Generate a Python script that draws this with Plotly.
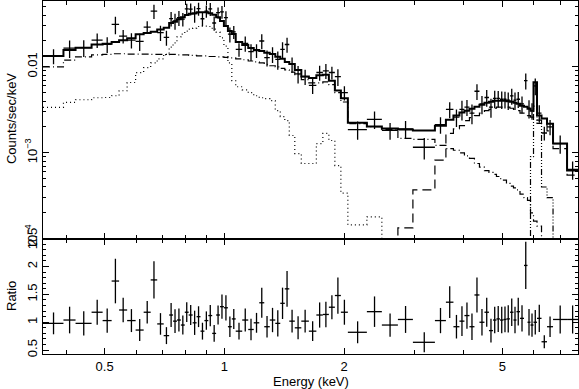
import math

import plotly.graph_objects as go
from plotly.subplots import make_subplots

# bin edges (keV) shared by the spectrum and ratio panels
EDGES = [
    0.350, 0.394, 0.4226, 0.4637, 0.4943, 0.5208, 0.5438, 0.5697, 0.5984, 0.6269,
    0.6529, 0.6780, 0.7040, 0.7266, 0.7432, 0.7602, 0.7776, 0.7954, 0.8136, 0.8326,
    0.8517, 0.8712, 0.8911, 0.9115, 0.9323, 0.9536, 0.9754, 0.9977, 1.0211, 1.0444,
    1.0683, 1.1092, 1.1486, 1.1858, 1.2243, 1.2602, 1.3010, 1.3432, 1.3827, 1.4193,
    1.4568, 1.5040, 1.5618, 1.6316, 1.7040, 1.7694, 1.8320, 1.8968, 1.9639, 2.0449,
    2.2829, 2.4899, 2.7322, 2.9801, 3.3852, 3.6079, 3.7684, 3.9017, 4.0165, 4.1346,
    4.2560, 4.3811, 4.5098, 4.6290, 4.7375, 4.8346, 4.9338, 5.0349, 5.1232, 5.2283,
    5.3355, 5.4291, 5.5404, 5.6703, 5.7865, 5.8880, 5.9912, 6.1142, 6.2757, 6.4792,
    6.7085, 7.2760, 7.7518,
]

# observed counts/sec/keV
COUNTS = [
    0.0134, 0.0165, 0.0167, 0.0205, 0.0183, 0.0312, 0.0228, 0.0205, 0.0198, 0.0290,
    0.0445, 0.0250, 0.0220, 0.0365, 0.0343, 0.0373, 0.0360, 0.0472, 0.0470, 0.0417,
    0.0475, 0.0363, 0.0445, 0.0472, 0.0324, 0.0428, 0.0436, 0.0375, 0.0240, 0.0255,
    0.0160, 0.0188, 0.0150, 0.0155, 0.0200, 0.0128, 0.0140, 0.0122, 0.0160, 0.0182,
    0.0107, 0.0083, 0.0077, 0.0061, 0.0086, 0.0090, 0.0086, 0.0077, 0.0050, 0.00186,
    0.00245, 0.00182, 0.00190, 0.00116, 0.00213, 0.0032, 0.0026, 0.0032, 0.0034, 0.0029,
    0.0052, 0.0037, 0.0044, 0.0034, 0.0043, 0.0043, 0.0042, 0.0042, 0.0041, 0.0046,
    0.0041, 0.0042, 0.0037, 0.0069, 0.0033, 0.0031, 0.0060, 0.0029, 0.0017, 0.0020,
    0.00128, 0.00064,
]

# fractional 1-sigma error of each bin
FRAC_ERR = [
    0.20, 0.23, 0.22, 0.19, 0.21, 0.23, 0.18, 0.20, 0.23, 0.17,
    0.19, 0.20, 0.20, 0.19, 0.21, 0.20, 0.18, 0.15, 0.16, 0.22,
    0.17, 0.18, 0.16, 0.17, 0.19, 0.15, 0.17, 0.18, 0.20, 0.17,
    0.18, 0.20, 0.22, 0.18, 0.20, 0.21, 0.21, 0.24, 0.21, 0.20,
    0.20, 0.23, 0.20, 0.21, 0.20, 0.20, 0.17, 0.22, 0.19, 0.24,
    0.23, 0.22, 0.23, 0.28, 0.22, 0.21, 0.23, 0.26, 0.21, 0.26,
    0.21, 0.24, 0.22, 0.25, 0.23, 0.22, 0.23, 0.22, 0.23, 0.21,
    0.23, 0.21, 0.22, 0.21, 0.24, 0.22, 0.22, 0.23, 0.18, 0.20,
    0.24, 0.24,
]

# data / model ratio
RATIO = [
    0.98, 1.04, 0.98, 1.18, 1.03, 1.74, 1.22, 1.03, 0.86, 1.18,
    1.76, 0.97, 0.76, 1.13, 1.02, 1.04, 0.95, 1.18, 1.13, 0.99,
    1.10, 0.84, 1.03, 1.12, 0.80, 1.13, 1.28, 1.26, 0.92, 1.06,
    0.84, 1.04, 0.87, 0.99, 1.35, 0.92, 1.04, 0.98, 1.34, 1.60,
    1.02, 0.90, 1.02, 0.84, 1.13, 1.14, 1.27, 1.48, 1.18, 0.82,
    1.19, 0.95, 1.05, 0.64, 1.03, 1.36, 0.92, 1.02, 1.12, 0.92,
    1.49, 1.00, 1.18, 0.85, 1.04, 1.06, 1.04, 1.05, 1.06, 1.18,
    1.04, 1.19, 1.07, 2.02, 1.00, 0.95, 1.00, 1.07, 0.65, 0.92,
    1.05, 1.05,
]

# total folded model
MODEL = [
    0.0134, 0.0157, 0.0167, 0.0182, 0.0186, 0.0195, 0.0204, 0.0215, 0.0240, 0.0248,
    0.0257, 0.0272, 0.0285, 0.0323, 0.0336, 0.0359, 0.0379, 0.0400, 0.0416, 0.0421,
    0.0432, 0.0432, 0.0432, 0.0421, 0.0405, 0.0379, 0.0341, 0.0298, 0.0261, 0.0241,
    0.0195, 0.0180, 0.0166, 0.0157, 0.0153, 0.0146, 0.0141, 0.0131, 0.0124, 0.0114,
    0.0108, 0.0092, 0.0077, 0.0074, 0.0080, 0.0081, 0.0069, 0.0053, 0.0043, 0.00224,
    0.00202, 0.00192, 0.00187, 0.00182, 0.00207, 0.00243, 0.00271, 0.00294, 0.00309, 0.00326,
    0.00344, 0.00363, 0.00382, 0.00393, 0.00404, 0.00404, 0.00404, 0.00404, 0.00399, 0.00393,
    0.00382, 0.00373, 0.00353, 0.00344, 0.00326, 0.00309, 0.0066, 0.00271, 0.00250, 0.00218,
    0.00128, 0.00062,
]

# model components (None = below the plotted range)
SOFT = [
    0.0100, 0.0120, 0.0131, 0.0138, 0.0140, 0.0142, 0.0142, 0.0141, 0.0141, 0.0141,
    0.0140, 0.0140, 0.0139, 0.0140, 0.0140, 0.0138, 0.0138, 0.0138, 0.0136, 0.0136,
    0.0134, 0.0134, 0.0134, 0.0132, 0.0132, 0.0131, 0.0131, 0.0129, 0.0127, 0.0127,
    0.0124, 0.0121, 0.0117, 0.0114, 0.0111, 0.0107, 0.0103, 0.0100, 0.0096, 0.0092,
    0.0087, 0.0081, 0.0071, 0.0065, 0.0065, 0.0067, 0.0062, 0.0050, 0.0039, 0.00219,
    0.00202, 0.00187, 0.00147, 0.00143, 0.00122, 0.00112, 0.00107, 0.00100, 0.00092, 0.00086,
    0.00075, 0.00068, 0.00062, 0.00059, 0.00056, 0.00053, 0.00050, 0.00048, 0.00044, 0.00041,
    0.00039, 0.00037, 0.00033, 0.00030, 0.00028, 0.00020, 0.00016, 0.00014, None, None,
    None, None,
]
THERMAL = [
    0.00338, 0.00386, 0.00414, 0.00437, 0.00440, 0.00461, 0.00527, 0.00658, 0.00859, 0.0098,
    0.0111, 0.0124, 0.0140, 0.0170, 0.0190, 0.0223, 0.0241, 0.0261, 0.0275, 0.0283,
    0.0295, 0.0298, 0.0298, 0.0295, 0.0275, 0.0254, 0.0217, 0.0174, 0.0111, 0.00689,
    0.00587, 0.00541, 0.00500, 0.00461, 0.00437, 0.00426, 0.00404, 0.00309, 0.00264, 0.00237,
    0.00159, 0.00098, 0.00075, 0.00075, 0.00128, 0.00168, 0.00139, 0.00071, 0.00034, 0.000145,
    0.00018, None, None, None, None, None, None, None, None, None,
    None, None, None, None, None, None, None, None, None, None,
    None, None, None, None, None, None, None, None, None, None,
    None, None,
]
HARD = [None] * 52 + [
    0.000134, 0.00037, 0.00082, 0.00168, 0.0019, 0.00207, 0.00237, 0.00257,
    0.0027, 0.0029, 0.0031, 0.0032, 0.0033, 0.0034, 0.0034, 0.0034, 0.0034, 0.0033,
    0.0032, 0.0031, 0.0029, 0.0028, 0.0027, 0.0026, 0.0025, 0.0024, 0.00213, 0.0018,
    0.00112, 0.00055,
]
FE_LINE = [None] * 75 + [0.0009, 0.0035, 0.0022, 0.0004, 0.0003, None, None]

FLOOR = 1e-7  # anything below the axis is drawn down to here (clipped)

centers = [(lo + hi) / 2 for lo, hi in zip(EDGES[:-1], EDGES[1:])]
half_w = [(hi - lo) / 2 for lo, hi in zip(EDGES[:-1], EDGES[1:])]

fig = make_subplots(rows=2, cols=1, shared_xaxes=True, vertical_spacing=0)


def step(values, dash, width):
    ys = [v if v is not None else FLOOR for v in values]
    return go.Scatter(
        x=EDGES, y=ys + [ys[-1]], mode="lines", line_shape="hv",
        line=dict(color="black", width=width, dash=dash), hoverinfo="skip",
    )


fig.add_trace(step(THERMAL, "1px,3px", 1.2), row=1, col=1)
fig.add_trace(step(SOFT, "7px,3px,1px,3px", 1.2), row=1, col=1)
fig.add_trace(step(HARD, "9px,5px", 1.2), row=1, col=1)
fig.add_trace(step(FE_LINE, "6px,2px,1px,2px,1px,2px,1px,2px", 1.2), row=1, col=1)
fig.add_trace(step(MODEL, "solid", 2), row=1, col=1)

fig.add_trace(
    go.Scatter(
        x=centers, y=COUNTS, mode="markers", marker=dict(size=1, color="black"),
        error_x=dict(type="data", array=half_w, width=0, thickness=1.3, color="black"),
        error_y=dict(type="data", array=[c * f for c, f in zip(COUNTS, FRAC_ERR)],
                     width=0, thickness=1.3, color="black"),
    ),
    row=1, col=1,
)

fig.add_hline(y=1, line=dict(color="black", width=1, dash="8px,6px"), row=2, col=1)
fig.add_trace(
    go.Scatter(
        x=centers, y=RATIO, mode="markers", marker=dict(size=1, color="black"),
        error_x=dict(type="data", array=half_w, width=0, thickness=1.3, color="black"),
        error_y=dict(type="data", array=[r * f for r, f in zip(RATIO, FRAC_ERR)],
                     width=0, thickness=1.3, color="black"),
    ),
    row=2, col=1,
)

font = dict(family="Liberation Sans, Arial, sans-serif", size=13, color="black")
axis_common = dict(
    showline=True, linecolor="black", linewidth=1.3, mirror="allticks",
    ticks="inside", tickcolor="black", tickwidth=1, showgrid=False, zeroline=False,
    tickfont=font, automargin=False,
)
x_common = dict(
    type="log", range=[math.log10(0.35), math.log10(7.7518)],
    tickvals=[0.5, 1, 2, 5], ticktext=["0.5", "1", "2", "5"], ticklen=6,
    minor=dict(tickvals=[0.4, 0.6, 0.7, 0.8, 0.9, 3, 4, 6, 7], ticks="inside",
               ticklen=4, tickcolor="black", showgrid=False),
    **axis_common,
)
fig.update_xaxes(showticklabels=False, **x_common, row=1, col=1)
fig.update_xaxes(showticklabels=True, **x_common, row=2, col=1)

minor_log = [m * d for d in (1e-4, 1e-3, 1e-2) for m in range(2, 10) if m * d < 0.06]
fig.update_yaxes(
    type="log", range=[-4, math.log10(0.0584)], domain=[0.3266, 1],
    tickvals=[1e-4, 1e-3, 1e-2], ticktext=["10<sup>−4</sup>", "10<sup>−3</sup>", "0.01"],
    tickangle=-90, ticklen=6,
    minor=dict(tickvals=minor_log, ticks="inside", ticklen=3, tickcolor="black",
               showgrid=False),
    **axis_common, row=1, col=1,
)
fig.update_yaxes(
    range=[0.43, 2.5], domain=[0, 0.3266],
    tickvals=[0.5, 1, 1.5, 2, 2.5], ticktext=["0.5", "1", "1.5", "2", "2.5"],
    tickangle=-90, ticklen=6,
    minor=dict(dtick=0.1, tick0=0, ticks="inside", ticklen=3, tickcolor="black",
               showgrid=False),
    **axis_common, row=2, col=1,
)

fig.update_layout(
    width=579, height=389, margin=dict(l=43, r=1, t=1, b=35, autoexpand=False),
    plot_bgcolor="white", paper_bgcolor="white", showlegend=False, font=font,
    annotations=[
        dict(text="Counts/sec/keV", x=-0.0598, y=0.6657, xref="paper", yref="paper",
             xanchor="center", yanchor="middle", textangle=-90, showarrow=False,
             font=font),
        dict(text="Ratio", x=-0.0598, y=0.1643, xref="paper", yref="paper",
             xanchor="center", yanchor="middle", textangle=-90, showarrow=False,
             font=font),
        dict(text="Energy (keV)", x=0.5, y=-0.0765, xref="paper", yref="paper",
             xanchor="center", yanchor="middle", showarrow=False, font=font),
    ],
)

# the page's default 8px body margin would shift the whole figure
fig.write_html(
    "out.html",
    config={"displayModeBar": False},
    post_script="document.body.style.margin = '0';",
)
